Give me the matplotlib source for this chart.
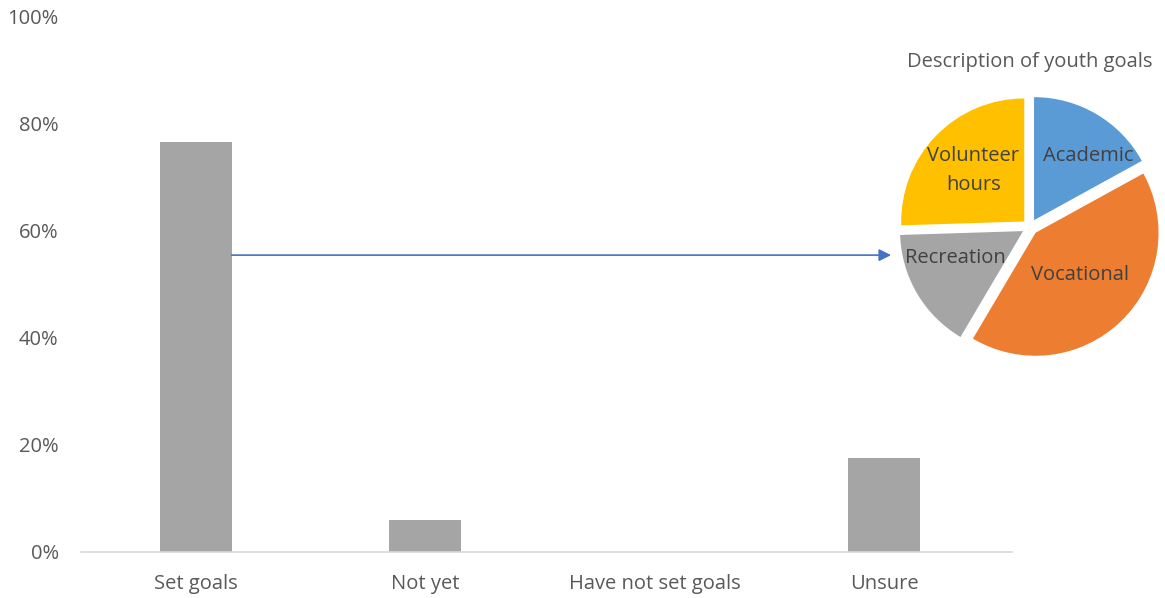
import matplotlib
matplotlib.use("Agg")
import matplotlib.pyplot as plt
from matplotlib.ticker import PercentFormatter

plt.rcParams["font.family"] = ["Open Sans", "DejaVu Sans"]

# bar chart data (% of youth)
categories = ["Set goals", "Not yet", "Have not set goals", "Unsure"]
shares = [76.5, 5.9, 0.0, 17.6]

# pie inset data (% of goals described)
goal_types = ["Academic", "Vocational", "Recreation", "Volunteer\nhours"]
goal_shares = [17, 41.5, 16, 25.5]
goal_colors = ["#5B9BD5", "#ED7D31", "#A5A5A5", "#FFC000"]
# where each pie label sits (pie radius = 1)
label_pos = [(0.47, 0.58), (0.41, -0.39), (-0.61, -0.25), (-0.46, 0.46)]

TICK_COLOR = "#595959"
LABEL_COLOR = "#404040"

fig = plt.figure(figsize=(11.65, 5.98), dpi=100)
ax = fig.add_axes([0.0695, 0.077, 0.7992, 0.896])

x = range(len(categories))
ax.bar(x, shares, width=0.315, color="#A5A5A5")
ax.set_xlim(-0.5, len(categories) - 0.443)
ax.set_ylim(0, 100)
ax.set_yticks(range(0, 101, 20))
ax.yaxis.set_major_formatter(PercentFormatter(decimals=0))
ax.set_xticks(list(x))
ax.set_xticklabels(categories)
ax.tick_params(axis="both", length=0, labelsize=14.5, colors=TICK_COLOR)
ax.tick_params(axis="y", pad=16)
ax.tick_params(axis="x", pad=16)
for side in ["top", "right", "left"]:
    ax.spines[side].set_visible(False)
ax.spines["bottom"].set_color("#D9D9D9")
ax.spines["bottom"].set_linewidth(1.2)

# arrow from the "Set goals" bar to the pie
arrow_y = 55.4
ax.annotate("", xy=(3.03, arrow_y), xytext=(0.157, arrow_y),
            arrowprops=dict(arrowstyle="-|>", color="#4472C4", lw=1.2,
                            mutation_scale=18, shrinkA=0, shrinkB=0))

# pie inset
pax = fig.add_axes([0.7682, 0.3946, 0.2318, 0.4515])
wedges, texts = pax.pie(goal_shares, labels=goal_types, colors=goal_colors,
                        startangle=90, counterclock=False,
                        explode=[0.065] * len(goal_shares),
                        wedgeprops=dict(linewidth=0),
                        textprops=dict(fontsize=14.5, color=LABEL_COLOR))
for t, pos in zip(texts, label_pos):
    t.set_position(pos)
    t.set_ha("center")
    t.set_va("center")
    t.set_linespacing(1.6)
pax.set_xlim(-1.0976, 1.0976)
pax.set_ylim(-1.0976, 1.0976)
pax.set_aspect("equal")
pax.axis("off")

fig.text(0.884, 0.897, "Description of youth goals", ha="center", va="center",
         fontsize=14.5, color=TICK_COLOR)

fig.savefig("out.png", dpi=100)
